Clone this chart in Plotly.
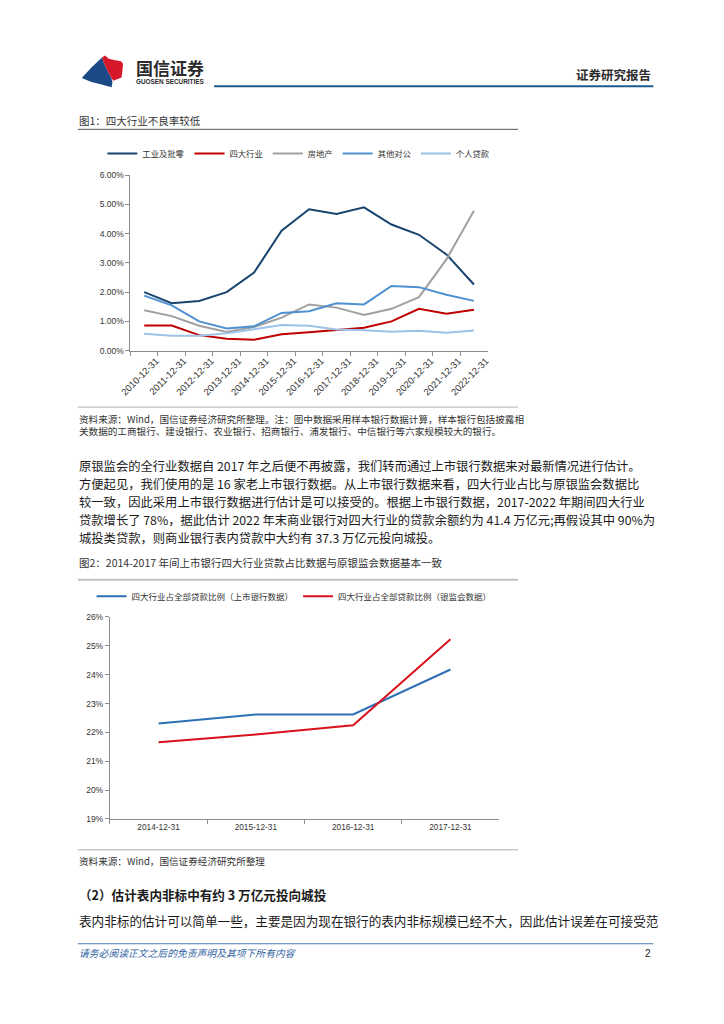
import plotly.graph_objects as go

# page is photographed in a 724x1024 window; the html body has an 8px margin
W, H = 716, 1016
OFF = 8
def X(p): return (p - OFF) / W
def Y(p): return 1 - (p - OFF) / H

CJK = "Noto Sans CJK SC"

# ---------------- data: chart 1 ----------------
years1 = ["2010-12-31", "2011-12-31", "2012-12-31", "2013-12-31", "2014-12-31",
          "2015-12-31", "2016-12-31", "2017-12-31", "2018-12-31", "2019-12-31",
          "2020-12-31", "2021-12-31", "2022-12-31"]
industry_retail = [2.00, 1.62, 1.70, 2.00, 2.67, 4.10, 4.83, 4.67, 4.90, 4.31, 3.96, 3.29, 2.26]
big_four = [0.86, 0.86, 0.53, 0.41, 0.37, 0.56, 0.63, 0.70, 0.78, 1.00, 1.43, 1.26, 1.40]
real_estate = [1.38, 1.18, 0.85, 0.64, 0.81, 1.13, 1.58, 1.47, 1.22, 1.43, 1.83, 3.12, 4.78]
other_corp = [1.88, 1.55, 1.00, 0.76, 0.83, 1.29, 1.35, 1.62, 1.58, 2.21, 2.17, 1.91, 1.70]
personal = [0.58, 0.51, 0.51, 0.59, 0.73, 0.88, 0.85, 0.72, 0.70, 0.65, 0.68, 0.61, 0.69]
names1 = ["工业及批零", "四大行业", "房地产", "其他对公", "个人贷款"]
colors1 = ["#17456f", "#c00000", "#a0a0a0", "#4f90d0", "#9cc2e8"]

# ---------------- data: chart 2 ----------------
years2 = ["2014-12-31", "2015-12-31", "2016-12-31", "2017-12-31"]
listed_bank = [22.31, 22.62, 22.62, 24.18]
cbrc = [21.66, 21.93, 22.25, 25.23]
names2 = ["四大行业占全部贷款比例（上市银行数据）", "四大行业占全部贷款比例（银监会数据）"]
colors2 = ["#2e6fb5", "#d9111c"]

fig = go.Figure()

series1 = [industry_retail, big_four, real_estate, other_corp, personal]
for name, vals, col in zip(names1, series1, colors1):
    fig.add_trace(go.Scatter(x=years1, y=vals, name=name, mode="lines",
                             line=dict(color=col, width=2), xaxis="x", yaxis="y",
                             legend="legend"))

for name, vals, col in zip(names2, [listed_bank, cbrc], colors2):
    fig.add_trace(go.Scatter(x=years2, y=vals, name=name, mode="lines",
                             line=dict(color=col, width=2), xaxis="x2", yaxis="y2",
                             legend="legend2"))

def axis_common(size):
    return dict(showgrid=False, zeroline=False, showline=True, linecolor="#8c8c8c",
                linewidth=1, ticks="outside", tickcolor="#8c8c8c", ticklen=4,
                tickfont=dict(family="Liberation Sans", size=size, color="#333"))

fig.update_layout(
    width=W, height=H,
    margin=dict(l=0, r=0, t=0, b=0),
    paper_bgcolor="white", plot_bgcolor="white",
    showlegend=True,
    xaxis=dict(domain=[X(121.7), X(486)], anchor="y", type="category",
               range=[-0.5, 12.5], tickson="boundaries", tickangle=-45,
               ticklabelshift=12, **axis_common(9.5)),
    yaxis=dict(domain=[Y(349), Y(171.7)], anchor="x", range=[0, 6], dtick=1,
               tickformat=".2f", ticksuffix="%", **axis_common(8.5)),
    xaxis2=dict(domain=[X(100.7), X(497.7)], anchor="y2", type="category",
                range=[-0.5, 3.5], tickson="boundaries", **axis_common(8.3)),
    yaxis2=dict(domain=[Y(822), Y(618)], anchor="x2", range=[19, 26], dtick=1,
                ticksuffix="%", **axis_common(8.5)),
    legend=dict(orientation="h", x=X(93), y=Y(150), xanchor="left", yanchor="middle",
                font=dict(family=CJK, size=8.3, color="#333"), itemwidth=30,
                bgcolor="rgba(0,0,0,0)"),
    legend2=dict(orientation="h", x=X(82), y=Y(597), xanchor="left", yanchor="middle",
                 font=dict(family=CJK, size=8.5, color="#333"), itemwidth=30,
                 bgcolor="rgba(0,0,0,0)"),
)

shapes = []
def hline(x0, x1, y, color, width):
    shapes.append(dict(type="line", xref="paper", yref="paper", x0=X(x0), x1=X(x1),
                       y0=Y(y), y1=Y(y), line=dict(color=color, width=width)))

def path(pts, color):
    # logo outline points, scaled about the logo's top-left
    def tx(a): return 72 + (a - 75.5) * 1.16
    def ty(b): return 51 + (b - 53.2) * 1.12
    d = "M " + " L ".join(f"{X(tx(a)):.5f},{Y(ty(b)):.5f}" for a, b in pts) + " Z"
    shapes.append(dict(type="path", xref="paper", yref="paper", path=d,
                       fillcolor=color, line=dict(width=0)))

# logo
path([(75.5, 73.5), (84, 64), (93.3, 55), (95.5, 61), (98.5, 67.5), (101.5, 73),
      (102.5, 77), (101.8, 81.8), (92, 79), (84, 77)], "#1c4a86")
path([(93.3, 55), (96, 53.2), (99.3, 56), (104, 57.2), (110, 58.3), (111.8, 60.5),
      (111.2, 67), (110.5, 73), (103.2, 75.8), (101.5, 73), (98.5, 67.5), (95.5, 61)],
     "#d7182a")

hline(207, 655, 82, "#1d5a8e", 2)          # header line
hline(68, 517, 125.5, "#555555", 1)        # fig1 title line
hline(68, 517, 406, "#b0b0b0", 1)          # fig1 bottom line
hline(68, 517, 580.5, "#c0c0c0", 2)        # fig2 title line
hline(68, 517, 853, "#c8c8c8", 1.5)        # fig2 bottom line
hline(68, 655, 948, "#4a7db5", 1)          # footer line

fig.update_layout(shapes=shapes)

anns = []
def text(x, y, s, size, color="#222", family=CJK, anchor="left", bold=False,
         italic=False, yanchor="middle"):
    if bold:
        s = "<b>" + s + "</b>"
    if italic:
        s = "<i>" + s + "</i>"
    anns.append(dict(xref="paper", yref="paper", x=X(x), y=Y(y), text=s, showarrow=False,
                     xanchor=anchor, yanchor=yanchor, align="left",
                     font=dict(family=family, size=size, color=color)))

text(125, 63, "国信证券", 17, "#2b2b2b", bold=True)
text(125, 77, "GUOSEN SECURITIES", 6.4, "#2b2b2b", family="Liberation Sans", bold=True)
text(655, 70, "证券研究报告", 12.5, "#2b2b2b", anchor="right", bold=True)

text(67, 117, "图1：四大行业不良率较低", 10.5, "#333")
source1 = ["资料来源：Wind，国信证券经济研究所整理。注：图中数据采用样本银行数据计算，样本银行包括披露相",
           "关数据的工商银行、建设银行、农业银行、招商银行、浦发银行、中信银行等六家规模较大的银行。"]
text(67, 424, "<br>".join(source1), 9.6, "#333")

para = [
    "原银监会的全行业数据自 2017 年之后便不再披露，我们转而通过上市银行数据来对最新情况进行估计。",
    "方便起见，我们使用的是 16 家老上市银行数据。从上市银行数据来看，四大行业占比与原银监会数据比",
    "较一致，因此采用上市银行数据进行估计是可以接受的。根据上市银行数据，2017-2022 年期间四大行业",
    "贷款增长了 78%，据此估计 2022 年末商业银行对四大行业的贷款余额约为 41.4 万亿元;再假设其中 90%为",
    "城投类贷款，则商业银行表内贷款中大约有 37.3 万亿元投向城投。",
]
for i, s in enumerate(para):
    text(67, 466 + i * 18, s, 12.3, "#1a1a1a")

text(67, 563, "图2：2014-2017 年间上市银行四大行业贷款占比数据与原银监会数据基本一致", 10.5, "#333")
text(67, 864, "资料来源：Wind，国信证券经济研究所整理", 9.6, "#333")
text(67, 898, "（2）估计表内非标中有约 3 万亿元投向城投", 12.6, "#1a1a1a", bold=True)
text(67, 925, "表内非标的估计可以简单一些，主要是因为现在银行的表内非标规模已经不大，因此估计误差在可接受范", 12.6, "#1a1a1a")
text(67, 957, "请务必阅读正文之后的免责声明及其项下所有内容", 9.8, "#2f63a3", italic=True)
text(655, 958, "2", 10, "#222", family="Liberation Sans", anchor="right")

fig.update_layout(annotations=anns)

fig.write_html("out.html")
